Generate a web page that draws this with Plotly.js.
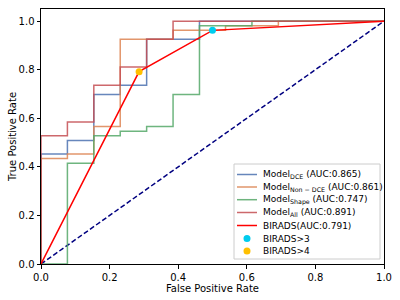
<!DOCTYPE html>
<html>
<head>
<meta charset="utf-8">
<script src="https://cdn.plot.ly/plotly-3.0.1.min.js"></script>
<style>
html,body{margin:0;padding:0;background:#fff;}
#chart{width:400px;height:300px;}
</style>
</head>
<body>
<div id="chart"></div>
<script>
// ROC curve points
const fprDCE = [0, 0, 0.077, 0.154, 0.231, 0.308, 0.462, 1];
const tprDCE = [0, 0.453, 0.509, 0.698, 0.736, 0.925, 1, 1];

const fprNonDCE = [0, 0, 0.077, 0.154, 0.231, 0.385, 0.538, 0.692, 1];
const tprNonDCE = [0, 0.434, 0.453, 0.566, 0.925, 0.962, 0.981, 1, 1];

const fprShape = [0, 0.077, 0.154, 0.231, 0.308, 0.385, 0.462, 0.615, 1];
const tprShape = [0, 0.415, 0.528, 0.547, 0.566, 0.698, 0.981, 1, 1];

const fprAll = [0, 0, 0.077, 0.154, 0.231, 0.308, 0.385, 1];
const tprAll = [0, 0.528, 0.585, 0.736, 0.811, 0.925, 1, 1];

const fprBirads = [0, 0.286, 0.5, 1];
const tprBirads = [0, 0.792, 0.962, 1];

const birads3X = [0.5];
const birads3Y = [0.962];
const birads4X = [0.286];
const birads4Y = [0.792];

const chanceX = [0, 1];
const chanceY = [0, 1];

const tickVals = [0, 0.2, 0.4, 0.6, 0.8, 1.0];

const names = [
  'Model<sub>DCE</sub> (AUC:0.865)',
  'Model<sub>Non − DCE</sub> (AUC:0.861)',
  'Model<sub>Shape</sub> (AUC:0.747)',
  'Model<sub>All</sub> (AUC:0.891)',
  'BIRADS(AUC:0.791)',
  'BIRADS>3',
  'BIRADS>4'
];
const colors = ['#4C72B0', '#DD8452', '#55A868', '#C44E52', '#FF0000', '#00CCEE', '#FFC000'];
const kinds = ['line', 'line', 'line', 'line', 'line', 'marker', 'marker'];

function stepTrace(x, y, color, name) {
  return {x: x, y: y, type: 'scatter', mode: 'lines', name: name,
    line: {color: color, width: 1.5, shape: 'hv'}, opacity: 0.85};
}

const traces = [
  {x: chanceX, y: chanceY, type: 'scatter', mode: 'lines', name: 'chance',
   line: {color: 'navy', width: 1.5, dash: '5px,2.5px'}},
  stepTrace(fprDCE, tprDCE, colors[0], names[0]),
  stepTrace(fprNonDCE, tprNonDCE, colors[1], names[1]),
  stepTrace(fprShape, tprShape, colors[2], names[2]),
  stepTrace(fprAll, tprAll, colors[3], names[3]),
  {x: fprBirads, y: tprBirads, type: 'scatter', mode: 'lines', name: names[4],
   line: {color: colors[4], width: 1.5}},
  {x: birads3X, y: birads3Y, type: 'scatter', mode: 'markers', name: names[5],
   marker: {color: colors[5], size: 7}},
  {x: birads4X, y: birads4Y, type: 'scatter', mode: 'markers', name: names[6],
   marker: {color: colors[6], size: 7}}
];

// ---- custom compact legend (matplotlib style) ----
const plotL = 41, plotW = 343, plotT = 9, plotH = 255;
function px2x(p) { return (p - plotL) / plotW; }
function py2y(p) { return (plotT + plotH - p) / plotH; }

const rowPy = [174.5, 187, 199.7, 212.5, 225.5, 238.5, 251];
const shapes = [{
  type: 'rect', xref: 'paper', yref: 'paper',
  x0: px2x(234), x1: px2x(380), y0: py2y(259), y1: py2y(164),
  fillcolor: 'rgba(255,255,255,0.85)', line: {color: '#cccccc', width: 1}, layer: 'above'
}];
const annotations = [];
names.forEach(function (nm, i) {
  const yy = py2y(rowPy[i]);
  if (kinds[i] === 'line') {
    shapes.push({type: 'line', xref: 'paper', yref: 'paper',
      x0: px2x(237), x1: px2x(257), y0: yy, y1: yy,
      line: {color: colors[i], width: 1.5}, opacity: i < 4 ? 0.85 : 1, layer: 'above'});
  } else {
    shapes.push({type: 'circle', xref: 'paper', yref: 'paper',
      xsizemode: 'pixel', ysizemode: 'pixel', xanchor: px2x(247), yanchor: yy,
      x0: -3.5, x1: 3.5, y0: -3.5, y1: 3.5,
      fillcolor: colors[i], line: {width: 0}, layer: 'above'});
  }
  annotations.push({xref: 'paper', yref: 'paper', x: px2x(262), y: yy,
    xanchor: 'left', yanchor: 'middle', showarrow: false, text: nm,
    borderpad: 0, font: {family: 'DejaVu Sans', size: 9, color: '#000'}});
});

const axisCommon = {
  showgrid: false, zeroline: false, showline: true, mirror: true,
  linecolor: '#000', linewidth: 1, ticks: 'outside', ticklen: 3.5,
  tickcolor: '#000', tickwidth: 1, tickformat: '.1f',
  tickfont: {family: 'DejaVu Sans', size: 10, color: '#000'}
};

const layout = {
  width: 400, height: 300,
  margin: {l: 41, r: 16, t: 9, b: 36},
  paper_bgcolor: '#fff', plot_bgcolor: '#fff',
  font: {family: 'DejaVu Sans', color: '#000'},
  xaxis: Object.assign({}, axisCommon, {
    range: [0, 1], tickvals: tickVals,
    title: {text: 'False Positive Rate', font: {size: 10}, standoff: 2}
  }),
  yaxis: Object.assign({}, axisCommon, {
    range: [0, 1.05], tickvals: tickVals,
    title: {text: 'True Positive Rate', font: {size: 10}, standoff: 0}
  }),
  shapes: shapes,
  annotations: annotations,
  showlegend: false
};

Plotly.newPlot('chart', traces, layout, {displayModeBar: false, staticPlot: true});
</script>
</body>
</html>
